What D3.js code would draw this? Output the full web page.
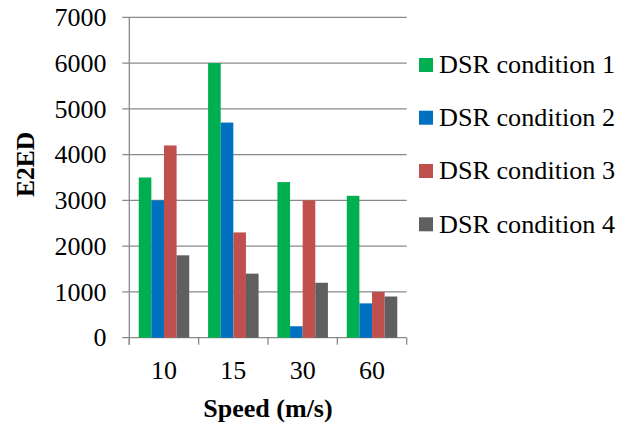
<!DOCTYPE html>
<html><head><meta charset="utf-8">
<script src="https://cdn.jsdelivr.net/npm/d3@7"></script>
<style>body{margin:0;background:#fff}svg{display:block}</style>
</head><body>
<script>
const categories = ["10","15","30","60"];
const seriesNames = ["DSR condition 1","DSR condition 2","DSR condition 3","DSR condition 4"];
const cond1 = [3500, 6000, 3400, 3100];
const cond2 = [3000, 4700, 250, 750];
const cond3 = [4200, 2300, 3000, 1000];
const cond4 = [1800, 1400, 1200, 900];
const yTicks = [0,1000,2000,3000,4000,5000,6000,7000];
const colors = ["#00B050","#0070C0","#C0504D","#5F5F5F"];
const seriesValues = [cond1, cond2, cond3, cond4];

const W = 630, H = 425;
const pLeft = 129.3, pRight = 406.7, pTop = 17.3, pBottom = 337.7;
const font = "'Liberation Serif','Times New Roman',serif";
const svg = d3.select("body").append("svg").attr("width", W).attr("height", H);

const y = d3.scaleLinear().domain([0,7000]).range([pBottom, pTop]);
const x0 = d3.scaleBand().domain(categories).range([pLeft, pRight]).padding(0);
const bw = x0.bandwidth();
const x1 = d3.scaleBand().domain(d3.range(4)).range([bw*0.136, bw*0.864]).padding(0);

const gridColor = "#898989";
svg.append("g").selectAll("line").data(yTicks).join("line")
  .attr("x1", pLeft-7).attr("x2", pRight)
  .attr("y1", d=>y(d)).attr("y2", d=>y(d))
  .attr("stroke", gridColor).attr("stroke-width", 1.3);

const groups = svg.append("g").selectAll("g").data(categories).join("g")
  .attr("transform", c=>`translate(${x0(c)},0)`);
groups.selectAll("rect").data((c,i)=>seriesValues.map((s,k)=>({k, v:s[i]}))).join("rect")
  .attr("x", d=>x1(d.k)).attr("width", x1.bandwidth())
  .attr("y", d=>y(d.v)).attr("height", d=>pBottom-y(d.v))
  .attr("fill", d=>colors[d.k]);

svg.append("line").attr("x1", pLeft).attr("x2", pLeft).attr("y1", pTop).attr("y2", pBottom+7)
  .attr("stroke", gridColor).attr("stroke-width", 1.3);
const bounds = categories.map(c=>x0(c)).concat([pRight]);
svg.append("g").selectAll("line").data(bounds).join("line")
  .attr("x1", d=>d).attr("x2", d=>d).attr("y1", pBottom).attr("y2", pBottom+7)
  .attr("stroke", gridColor).attr("stroke-width", 1.3);

svg.append("g").selectAll("text").data(yTicks).join("text")
  .attr("x", 106.5).attr("y", d=>y(d)+8.7).attr("text-anchor","end")
  .attr("font-family", font).attr("font-size", 26).attr("fill","#000")
  .text(d=>d);

svg.append("g").selectAll("text").data(categories).join("text")
  .attr("x", c=>x0(c)+bw/2).attr("y", 378.5).attr("text-anchor","middle")
  .attr("font-family", font).attr("font-size", 26).attr("fill","#000")
  .text(c=>c);

svg.append("text").attr("x", 268).attr("y", 417).attr("text-anchor","middle")
  .attr("font-family", font).attr("font-size", 26).attr("font-weight","bold").text("Speed (m/s)");
svg.append("text").attr("transform","translate(34,164.5) rotate(-90)").attr("text-anchor","middle")
  .attr("font-family", font).attr("font-size", 25.5).attr("font-weight","bold").text("E2ED");

const rowY = [65, 117.7, 171, 224.3];
const lg = svg.append("g").selectAll("g").data(seriesNames).join("g")
  .attr("transform", (d,i)=>`translate(419,${rowY[i]})`);
lg.append("rect").attr("x",0).attr("y",-7).attr("width",14).attr("height",14)
  .attr("fill",(d,i)=>colors[i]);
lg.append("text").attr("x",20).attr("y",8.2)
  .attr("font-family", font).attr("font-size", 26.2).attr("fill","#000").text(d=>d);
</script>
</body></html>
